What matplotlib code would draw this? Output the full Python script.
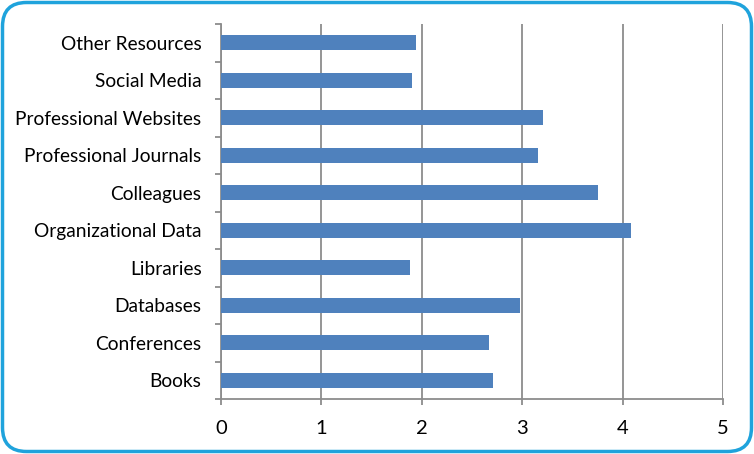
import matplotlib.pyplot as plt
from matplotlib.patches import FancyBboxPatch
from matplotlib.ticker import FixedLocator

# Data (bottom to top)
categories = ['Books', 'Conferences', 'Databases', 'Libraries',
              'Organizational Data', 'Colleagues', 'Professional Journals',
              'Professional Websites', 'Social Media', 'Other Resources']
values = [2.71, 2.67, 2.98, 1.88, 4.08, 3.75, 3.16, 3.21, 1.90, 1.94]
x_ticks = [0, 1, 2, 3, 4, 5]

plt.rcParams['font.family'] = ['Lato', 'DejaVu Sans']

fig = plt.figure(figsize=(7.54, 4.54), dpi=100)
ax = fig.add_axes([221 / 754, 1 - 399 / 454, 502 / 754, 375 / 454])

pos = list(range(len(categories)))
ax.barh(pos, values, height=0.39, color='#4f81bd', zorder=3)

ax.set_xlim(0, 5)
ax.set_ylim(-0.5, len(categories) - 0.5)
ax.set_xticks(x_ticks)
ax.set_yticks(pos)
ax.set_yticklabels(categories)
ax.yaxis.set_minor_locator(FixedLocator([p - 0.5 for p in range(len(categories) + 1)]))

ax.grid(axis='x', color='#8c8c8c', linewidth=1.3, zorder=1)
for side in ['top', 'right']:
    ax.spines[side].set_visible(False)
for side in ['left', 'bottom']:
    ax.spines[side].set_color('#8c8c8c')
    ax.spines[side].set_linewidth(1.3)

ax.tick_params(axis='y', which='major', length=0, pad=14, labelsize=13.8, labelcolor='black')
ax.tick_params(axis='y', which='minor', length=4, width=1.3, color='#8c8c8c')
ax.tick_params(axis='x', which='major', length=4, width=1.3, color='#8c8c8c',
               pad=11, labelsize=14.5)

# Rounded border (in inches)
border = FancyBboxPatch((0.025, 0.025), 7.49, 4.49,
                        boxstyle='round,pad=0,rounding_size=0.24',
                        transform=fig.dpi_scale_trans, fill=False,
                        edgecolor='#1fa3dc', linewidth=2.5)
fig.patches.append(border)

fig.savefig('out.png', dpi=100)
